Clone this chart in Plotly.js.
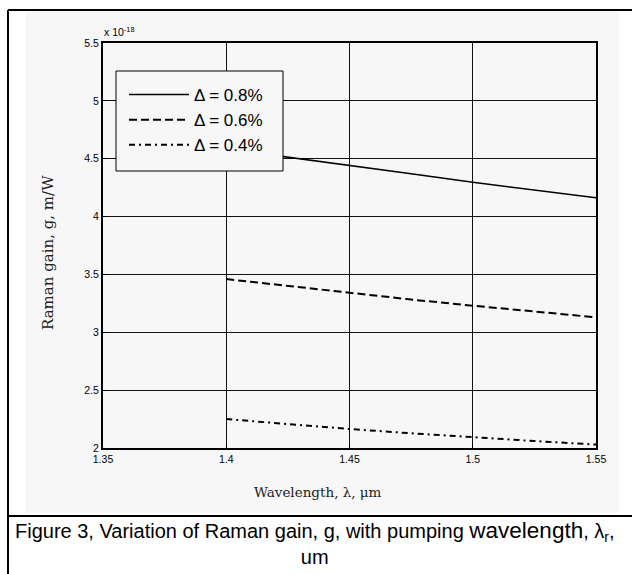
<!DOCTYPE html>
<html>
<head>
<meta charset="utf-8">
<script src="https://cdn.plot.ly/plotly-3.0.1.min.js"></script>
<style>html,body{margin:0;padding:0;background:#fff;}#chart{width:632px;height:574px;}</style>
</head>
<body>
<div id="chart"></div>
<script>
// Data (gain in units of 1e-18 m/W)
var wavelength = [1.40, 1.425, 1.45, 1.475, 1.50, 1.525, 1.55];
var gain08 = [4.585, 4.515, 4.446, 4.370, 4.296, 4.228, 4.163];
var gain06 = [3.460, 3.400, 3.337, 3.283, 3.230, 3.180, 3.129];
var gain04 = [2.250, 2.206, 2.164, 2.127, 2.092, 2.060, 2.030];
var seriesNames = ['\u0394 = 0.8%', '\u0394 = 0.6%', '\u0394 = 0.4%'];
var xTicks = [1.35, 1.40, 1.45, 1.50, 1.55];
var xTickText = ['1.35', '1.4', '1.45', '1.5', '1.55'];
var yTicks = [2, 2.5, 3, 3.5, 4, 4.5, 5, 5.5];
var yTickText = ['2', '2.5', '3', '3.5', '4', '4.5', '5', '5.5'];

// pixel -> paper helpers (plot area: x 103..596, y 43..448)
var L = 103, R = 596, T = 43, B = 448;
function px(x) { return (x - L) / (R - L); }
function py(y) { return (B - y) / (B - T); }

var traces = [
  {x: wavelength, y: gain08, name: seriesNames[0], mode: 'lines',
   line: {color: '#000', width: 1.6, dash: 'solid'}},
  {x: wavelength, y: gain06, name: seriesNames[1], mode: 'lines',
   line: {color: '#000', width: 2, dash: '8px,4px'}},
  {x: wavelength, y: gain04, name: seriesNames[2], mode: 'lines',
   line: {color: '#000', width: 2, dash: '6px,4px,2px,4px'}}
];

var tickFont = {family: 'Liberation Sans, Arial, sans-serif', size: 10.5, color: '#000'};

var layout = {
  width: 632, height: 574,
  margin: {l: L, r: 632 - R, t: T, b: 574 - B, pad: 0},
  paper_bgcolor: '#ffffff',
  plot_bgcolor: '#f7f7f7',
  showlegend: true,
  legend: {
    x: px(124), y: py(77), xanchor: 'left', yanchor: 'top',
    bgcolor: 'rgba(0,0,0,0)', borderwidth: 0,
    font: {family: 'Liberation Sans, Arial, sans-serif', size: 17, color: '#000'},
    itemwidth: 60
  },
  xaxis: {
    range: [1.35, 1.55], tickvals: xTicks, ticktext: xTickText,
    showgrid: true, gridcolor: '#111', gridwidth: 1,
    showline: true, mirror: true, linecolor: '#000', linewidth: 2,
    ticks: 'inside', ticklen: 4, tickcolor: '#000', zeroline: false,
    tickfont: tickFont
  },
  yaxis: {
    range: [2, 5.5], tickvals: yTicks, ticktext: yTickText,
    showgrid: true, gridcolor: '#111', gridwidth: 1,
    showline: true, mirror: true, linecolor: '#000', linewidth: 2,
    ticks: 'inside', ticklen: 4, tickcolor: '#000', zeroline: false,
    tickfont: tickFont
  },
  shapes: [
    {type: 'rect', xref: 'paper', yref: 'paper', x0: px(26), x1: px(619), y0: py(513), y1: py(10),
     fillcolor: '#f7f7f7', line: {width: 0}, layer: 'below'},
    {type: 'rect', xref: 'paper', yref: 'paper', x0: px(116), x1: px(283), y0: py(171), y1: py(71),
     fillcolor: '#f7f7f7', line: {color: '#000', width: 1}, layer: 'above'},
    {type: 'line', xref: 'paper', yref: 'paper', x0: px(8), x1: px(8), y0: py(10), y1: py(574),
     line: {color: '#000', width: 2}},
    {type: 'line', xref: 'paper', yref: 'paper', x0: px(8), x1: px(632), y0: py(10), y1: py(10),
     line: {color: '#000', width: 2}},
    {type: 'line', xref: 'paper', yref: 'paper', x0: px(8), x1: px(632), y0: py(516), y1: py(516),
     line: {color: '#000', width: 2}}
  ],
  annotations: [
    {xref: 'paper', yref: 'paper', x: px(102), y: py(40), xanchor: 'left', yanchor: 'bottom',
     text: 'x 10<sup>-18</sup>', showarrow: false,
     font: {family: 'Liberation Sans, Arial, sans-serif', size: 10.5, color: '#000'}},
    {xref: 'paper', yref: 'paper', x: px(48), y: py(253), xanchor: 'center', yanchor: 'middle',
     text: 'Raman gain, g, m/W', textangle: -90, showarrow: false,
     font: {family: 'DejaVu Serif, serif', size: 15, color: '#222'}},
    {xref: 'paper', yref: 'paper', x: px(318), y: py(492), xanchor: 'center', yanchor: 'middle',
     text: 'Wavelength, \u03bb, \u03bcm', showarrow: false,
     font: {family: 'DejaVu Serif, serif', size: 13.5, color: '#222'}},
    {xref: 'paper', yref: 'paper', x: px(315), y: py(543), xanchor: 'center', yanchor: 'middle',
     text: 'Figure 3, Variation of Raman gain, g, with pumping <span style="font-size:22.5px">wavelength</span>, \u03bb<sub>r</sub>,<br>um',
     showarrow: false, align: 'center',
     font: {family: 'Liberation Sans, Arial, sans-serif', size: 20, color: '#000'}}
  ]
};

Plotly.newPlot('chart', traces, layout, {displayModeBar: false, staticPlot: true});
</script>
</body>
</html>
